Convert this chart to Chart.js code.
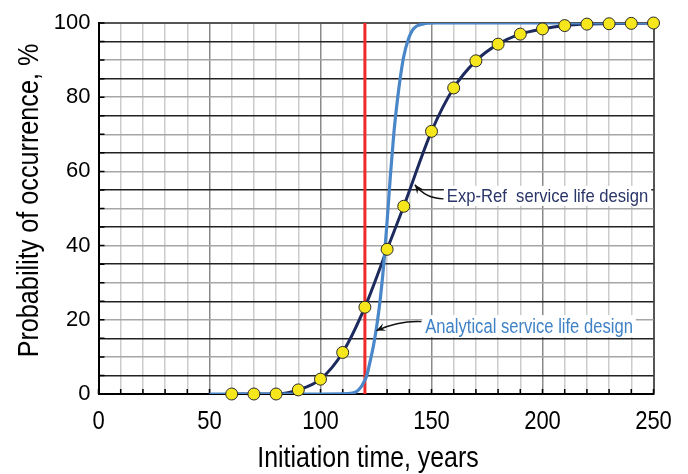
<!DOCTYPE html>
<html><head><meta charset="utf-8">
<script src="https://cdn.jsdelivr.net/npm/chart.js@4"></script>
<style>html,body{margin:0;padding:0;background:#fff}#wrap{width:688px;height:474px;position:relative}</style>
</head><body><div id="wrap"><canvas id="c" width="688" height="474"></canvas></div>
<script>
// ---- data ----
const expRefYears = [60,70,80,90,100,110,120,130,137.5,150,160,170,180,190,200,210,220,230,240,250];
const expRefProb  = [0,0,0,1.1,4.0,11.2,23.4,39.0,50.6,70.8,82.5,89.8,94.3,97.0,98.4,99.3,99.7,99.8,99.9,100];
const analyticalYears = [50,100,112,116,118.4,119.6,120.7,122.5,124,125.5,127,128.5,130,131.5,133,134.5,136,137.5,139.5,142,146,152,250];
const analyticalProb  = [0,0,0.1,0.6,2.0,3.3,4.7,9.2,13.5,19,26,35,46.5,59,70,78.5,85.5,91,95.5,98.5,99.7,100,100];
const targetYears = [120,120];
const targetProb  = [0,100];
const xTickLabels = [0,50,100,150,200,250];
const yTickLabels = [0,20,40,60,80,100];
const xTitle = 'Initiation time, years';
const yTitle = 'Probability of occurrence, %';
const expRefLabel = 'Exp-Ref  service life design';
const analyticalLabel = 'Analytical service life design';

const pts = (xs, ys) => xs.map((x, i) => ({x, y: ys[i]}));

const REG = "'Liberation Sans',Arial,sans-serif";

// annotation placement (in data units)
const notes = [
  {text: expRefLabel, color: '#2a3568', size: 19, squeeze: 0.875, x: 156.9, y: 53.4, boxH: 20,
   arrow: [[155.4,52.6],[147.3,52.7],[142.5,56.4]]},
  {text: analyticalLabel, color: '#3f82c6', size: 20, squeeze: 0.83, x: 147.2, y: 18.3, boxH: 22,
   arrow: [[145.5,19.5],[135.6,19.8],[125.2,17.1]]}
];

// draw a scale's own title/labels through a transform (condensed text like the reference)
function wrapDraw(scale, method, tf) {
  const key = '_wrapped_' + method;
  if (scale[key]) return;
  const orig = scale[method];
  scale[method] = function (...args) {
    const ctx = this.ctx;
    ctx.save();
    tf(ctx, this);
    const r = orig.apply(this, args);
    ctx.restore();
    return r;
  };
  scale[key] = true;
}

const extras = {
  id: 'extras',
  beforeDraw(chart) {
    const {x, y} = chart.scales;
    wrapDraw(x, 'drawTitle', (ctx, s) => {
      const cx = (s.left + s.right) / 2;
      ctx.translate(cx - 8, 0); ctx.scale(0.83, 1); ctx.translate(-cx, 0);
    });
    wrapDraw(y, 'drawTitle', (ctx, s) => {
      const cy = (s.top + s.bottom) / 2;
      ctx.translate(0, cy - 8); ctx.scale(1, 0.84); ctx.translate(0, -cy);
    });
    wrapDraw(x, 'drawLabels', (ctx, s) => {
      const cy = s.top + 25;
      ctx.translate(0, cy); ctx.scale(1, 1.18); ctx.translate(0, -cy);
    });
  },
  beforeDatasetsDraw(chart) {
    const {ctx, scales: {x, y}, chartArea: a} = chart;
    ctx.save();
    ctx.strokeStyle = '#000';
    ctx.lineWidth = 1.5;
    ctx.beginPath();
    x.ticks.forEach(t => { const px = x.getPixelForValue(t.value); ctx.moveTo(px, a.bottom); ctx.lineTo(px, a.bottom - 5); });
    y.ticks.forEach(t => { const py = y.getPixelForValue(t.value); ctx.moveTo(a.left, py); ctx.lineTo(a.left + 6, py); });
    ctx.stroke();
    ctx.restore();
  },
  afterDatasetsDraw(chart) {
    const {ctx, scales: {x, y}} = chart;
    notes.forEach(n => {
      const tx = x.getPixelForValue(n.x), ty = y.getPixelForValue(n.y);
      ctx.save();
      ctx.font = n.size + "px " + REG;
      const w = ctx.measureText(n.text).width * n.squeeze;
      ctx.fillStyle = '#fff';
      ctx.fillRect(tx - 3, ty - n.boxH / 2, w + 6, n.boxH);
      ctx.translate(tx, ty + 1);
      ctx.scale(n.squeeze, 1);
      ctx.fillStyle = n.color;
      ctx.textBaseline = 'middle';
      ctx.textAlign = 'left';
      ctx.fillText(n.text, 0, 0);
      ctx.restore();
      ctx.save();
      const p = n.arrow.map(([vx, vy]) => [x.getPixelForValue(vx), y.getPixelForValue(vy)]);
      ctx.strokeStyle = '#111';
      ctx.lineWidth = 1.4;
      ctx.beginPath();
      ctx.moveTo(p[0][0], p[0][1]);
      ctx.quadraticCurveTo(p[1][0], p[1][1], p[2][0], p[2][1]);
      ctx.stroke();
      const ang = Math.atan2(p[2][1] - p[1][1], p[2][0] - p[1][0]);
      const L = 9, W = 4;
      ctx.fillStyle = '#111';
      ctx.beginPath();
      ctx.moveTo(p[2][0], p[2][1]);
      ctx.lineTo(p[2][0] - L * Math.cos(ang) + W * Math.sin(ang), p[2][1] - L * Math.sin(ang) - W * Math.cos(ang));
      ctx.lineTo(p[2][0] - L * 0.6 * Math.cos(ang), p[2][1] - L * 0.6 * Math.sin(ang));
      ctx.lineTo(p[2][0] - L * Math.cos(ang) - W * Math.sin(ang), p[2][1] - L * Math.sin(ang) + W * Math.cos(ang));
      ctx.closePath();
      ctx.fill();
      ctx.restore();
    });
  }
};

new Chart(document.getElementById('c'), {
  type: 'scatter',
  data: {
    datasets: [
      {label: 'Target', data: pts(targetYears, targetProb), showLine: true, borderColor: '#ee2a2a', borderWidth: 3, pointRadius: 0, order: 4},
      {label: 'Exp-Ref line', data: pts(expRefYears, expRefProb), showLine: true, borderColor: '#1c2a5e', borderWidth: 3, pointRadius: 0, cubicInterpolationMode: 'monotone', order: 3},
      {label: 'Analytical', data: pts(analyticalYears, analyticalProb), showLine: true, borderColor: '#4a87c9', borderWidth: 3.2, pointRadius: 0, cubicInterpolationMode: 'monotone', order: 2},
      {label: 'Exp-Ref points', data: pts(expRefYears, expRefProb), showLine: false, pointRadius: 6, pointBackgroundColor: '#f5e71b', pointBorderColor: '#2a2a2a', pointBorderWidth: 1, clip: false, order: 1}
    ]
  },
  options: {
    responsive: false,
    animation: false,
    events: [],
    layout: {padding: {left: 0, top: 23, right: 34.5, bottom: 0}},
    plugins: {legend: {display: false}, tooltip: {enabled: false}},
    scales: {
      x: {
        type: 'linear', min: 0, max: 250,
        afterFit: s => { s.height = 80; },
        ticks: {stepSize: 10, autoSkip: false, maxRotation: 0, padding: 14, color: '#000',
          font: {family: REG, size: 22},
          callback: v => xTickLabels.includes(v) ? String(v) : ''},
        grid: {drawTicks: false,
          color: c => { const v = c.tick.value; if (v === 250) return '#555'; if (v % 50 === 0) return '#8a8a8a'; return '#cccccc'; },
          lineWidth: c => c.tick.value === 250 ? 2 : 1.5},
        border: {color: '#000', width: 2},
        title: {display: true, text: xTitle, color: '#000', padding: {top: 0, bottom: 0},
          font: {family: REG, size: 30, lineHeight: 1}}
      },
      y: {
        type: 'linear', min: 0, max: 100,
        afterFit: s => { s.width = 98.5; },
        ticks: {stepSize: 5, autoSkip: false, padding: 8, color: '#000',
          font: {family: REG, size: 22},
          callback: v => yTickLabels.includes(v) ? String(v) : ''},
        grid: {drawTicks: false,
          color: c => { const v = c.tick.value; if (v === 100) return '#555'; if (v % 10 === 0) return '#a6a6a6'; return '#222'; },
          lineWidth: c => c.tick.value === 100 ? 2 : 1.5},
        border: {color: '#000', width: 2},
        title: {display: true, text: yTitle, color: '#000', padding: {top: 15, bottom: 0},
          font: {family: REG, size: 30, lineHeight: 1}}
      }
    }
  },
  plugins: [extras]
});
</script>
</body></html>
